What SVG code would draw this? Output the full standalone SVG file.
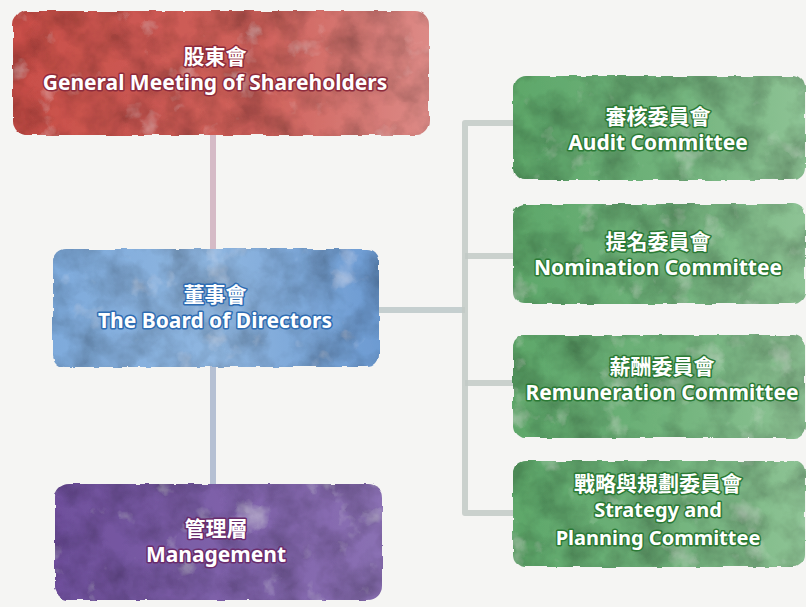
<svg xmlns="http://www.w3.org/2000/svg" width="806" height="607" viewBox="0 0 806 607">
<defs>
<filter id="paper" x="0" y="0" width="100%" height="100%">
<feTurbulence type="fractalNoise" baseFrequency="0.08 0.02" numOctaves="3" seed="5" result="n"/>
<feColorMatrix in="n" type="matrix" values="0 0 0 0 0.9  0 0 0 0 0.9  0 0 0 0 0.9  0.3 0 0 0 -0.1"/>
</filter>
<filter id="wc" x="-5%" y="-10%" width="110%" height="120%">
<feTurbulence type="fractalNoise" baseFrequency="0.03" numOctaves="4" seed="7" result="noise"/>
<feColorMatrix in="noise" type="matrix" values="0 0 0 0 0  0 0 0 0 0  0 0 0 0 0  0.9 0 0 0 -0.3" result="dark"/>
<feComposite in="dark" in2="SourceGraphic" operator="in" result="darkIn"/>
<feColorMatrix in="noise" type="matrix" values="0 0 0 0 1  0 0 0 0 1  0 0 0 0 1  0 -0.8 0 0 0.3" result="light"/>
<feComposite in="light" in2="SourceGraphic" operator="in" result="lightIn"/>
<feMerge result="m"><feMergeNode in="SourceGraphic"/><feMergeNode in="darkIn"/><feMergeNode in="lightIn"/></feMerge>
<feTurbulence type="fractalNoise" baseFrequency="0.07" numOctaves="2" seed="3" result="edge"/>
<feDisplacementMap in="m" in2="edge" scale="4" xChannelSelector="R" yChannelSelector="G"/>
</filter>
<linearGradient id="gRed" x1="0" y1="0" x2="1" y2="0">
<stop offset="0" stop-color="#c94f49"/><stop offset="0.6" stop-color="#cf625c"/><stop offset="1" stop-color="#dc8a86"/>
</linearGradient>
<linearGradient id="gBlue" x1="0" y1="0" x2="1" y2="0">
<stop offset="0" stop-color="#7eaadb"/><stop offset="0.5" stop-color="#8fb6e0"/><stop offset="1" stop-color="#6d9bd2"/>
</linearGradient>
<linearGradient id="gPurple" x1="0" y1="0" x2="1" y2="0">
<stop offset="0" stop-color="#6f509c"/><stop offset="0.5" stop-color="#7e61a9"/><stop offset="1" stop-color="#8a70b3"/>
</linearGradient>
<linearGradient id="gGreen" x1="0" y1="0" x2="1" y2="0">
<stop offset="0" stop-color="#5ea76a"/><stop offset="0.5" stop-color="#6fb27a"/><stop offset="1" stop-color="#8ec395"/>
</linearGradient>
<style>
.box{filter:url(#wc);}
.t{font-family:"Noto Sans","Noto Sans CJK TC",sans-serif;font-weight:bold;fill:#ffffff;stroke-width:3;stroke-linejoin:round;paint-order:stroke;text-anchor:middle;}
.zh{font-size:21px;}
.en{font-size:21px;}
.sm{font-size:20px;}
.red{stroke:#8e2b3c;}
.blue{stroke:#2e6cb2;}
.purple{stroke:#6a2c6c;}
.green{stroke:#2b7a35;}
.con{fill:none;stroke-width:6;stroke-linecap:butt;stroke-linejoin:round;opacity:0.85;}
</style>
</defs>
<rect width="806" height="607" fill="#f5f5f3"/>
<rect width="806" height="607" filter="url(#paper)"/>
<g id="connectors">
<path class="con" d="M213 132 V250" stroke="#cfafbd"/>
<path class="con" d="M213 366 V486" stroke="#a9b6cc"/>
<path class="con" d="M378 310 H465" stroke="#bcc8c8"/>
<path class="con" d="M515 123 H465 V513 H515" stroke="#c2cac6"/>
<path class="con" d="M465 256 H515" stroke="#c2cac6"/>
<path class="con" d="M465 383 H515" stroke="#c2cac6"/>
</g>
<g id="shareholders">
<rect class="box" x="13" y="11" width="416" height="124" rx="14" fill="url(#gRed)"/>
<text class="t zh red" x="215" y="64">股東會</text>
<text class="t en red" x="215" y="90">General Meeting of Shareholders</text>
</g>
<g id="board">
<rect class="box" x="53" y="249" width="326" height="118" rx="12" fill="url(#gBlue)"/>
<text class="t zh blue" x="215" y="302">董事會</text>
<text class="t en blue" x="215" y="328">The Board of Directors</text>
</g>
<g id="management">
<rect class="box" x="55" y="484" width="327" height="116" rx="14" fill="url(#gPurple)"/>
<text class="t zh purple" x="216" y="536">管理層</text>
<text class="t en purple" x="216" y="562">Management</text>
</g>
<g id="audit">
<rect class="box" x="513" y="76" width="292" height="104" rx="12" fill="url(#gGreen)"/>
<text class="t zh green" x="658" y="124">審核委員會</text>
<text class="t en green" x="658" y="150">Audit Committee</text>
</g>
<g id="nomination">
<rect class="box" x="513" y="204" width="292" height="100" rx="12" fill="url(#gGreen)"/>
<text class="t zh green" x="658" y="249">提名委員會</text>
<text class="t en green" x="658" y="275">Nomination Committee</text>
</g>
<g id="remuneration">
<rect class="box" x="513" y="335" width="292" height="103" rx="12" fill="url(#gGreen)"/>
<text class="t zh green" x="662" y="374">薪酬委員會</text>
<text class="t en green" x="662" y="400">Remuneration Committee</text>
</g>
<g id="strategy">
<rect class="box" x="513" y="461" width="292" height="106" rx="12" fill="url(#gGreen)"/>
<text class="t zh green" x="658" y="491">戰略與規劃委員會</text>
<text class="t sm green" x="658" y="517">Strategy and</text>
<text class="t sm green" x="658" y="545">Planning Committee</text>
</g>
</svg>
